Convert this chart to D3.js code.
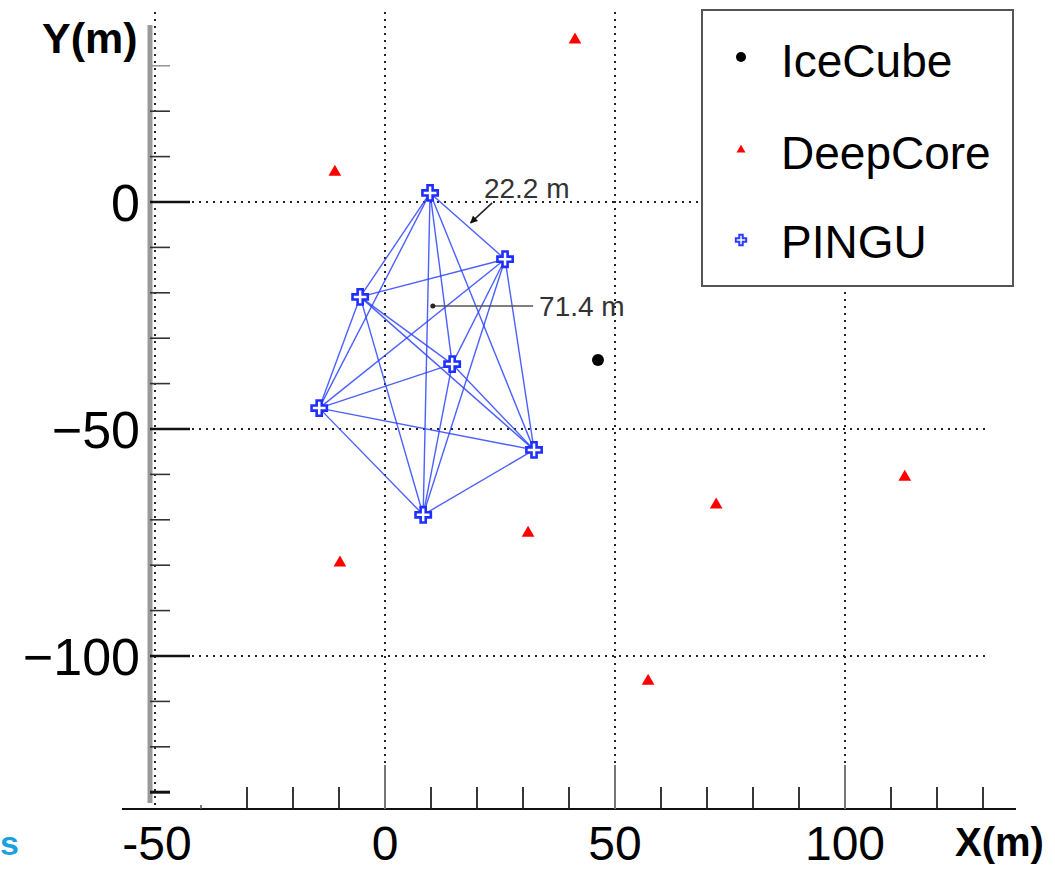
<!DOCTYPE html>
<html><head><meta charset="utf-8">
<script src="https://cdn.jsdelivr.net/npm/d3@7"></script>
<style>
html,body{margin:0;padding:0;background:#fff;}
svg text{font-family:"Liberation Sans",Arial,sans-serif;}
</style></head>
<body><svg id="c" width="1055" height="871"></svg>
<script>
// ---- data ----
const icecubeX = [46.3];
const icecubeY = [-34.8];
const deepcoreX = [41.3, -10.9, -9.8, 31.1, 72.0, 113.0, 57.2];
const deepcoreY = [35.7, 6.6, -79.5, -72.9, -66.7, -60.6, -105.5];
const pinguX = [9.8, 26.1, -5.4, 14.6, -14.3, 32.4, 8.3];
const pinguY = [2.0, -12.6, -20.9, -35.7, -45.4, -54.6, -68.9];
const xTickLabels = [-50, 0, 50, 100];
const yTickLabels = [0, -50, -100];
const xMinorTicks = [-30, -20, -10, 10, 20, 30, 40, 60, 70, 80, 90, 110, 120, 130];
const yMinorTicks = [30, 20, 10, -10, -20, -30, -40, -60, -70, -80, -90, -110, -120, -130];
const legendNames = ["IceCube", "DeepCore", "PINGU"];
const annotText = ["22.2 m", "71.4 m"];
const annotTextX = [21.5, 33.5];   // data coords of label start
const annotTextY = [3.2, -22.9];
const annotFromX = [23.3, 10.4];   // pointer start
const annotFromY = [-0.2, -22.9];
const annotToX = [18.6, 32.2];     // pointer end
const annotToY = [-4.6, -22.9];

const svg = d3.select("#c");
const x = d3.scaleLinear().domain([-50, 100]).range([155, 845]);
const y = d3.scaleLinear().domain([0, -100]).range([202, 656]);

const xAxisY = 809, yAxisX = 150;
const gridTop = 12, gridRight = x(131);

// grid (dotted)
const grid = svg.append("g").attr("stroke", "#222").attr("stroke-width", 2).attr("stroke-dasharray", "2,5");
[-50, 0, 50, 100].forEach(v => {
  grid.append("line").attr("x1", x(v)).attr("x2", x(v)).attr("y1", gridTop).attr("y2", xAxisY);
});
yTickLabels.forEach(v => {
  grid.append("line").attr("x1", yAxisX).attr("x2", gridRight).attr("y1", y(v)).attr("y2", y(v));
});

// Y axis
svg.append("line").attr("x1", yAxisX).attr("x2", yAxisX).attr("y1", 25).attr("y2", 803)
  .attr("stroke", "#999").attr("stroke-width", 5);
const yAx = svg.append("g");
yTickLabels.forEach(v => {
  yAx.append("line").attr("x1", yAxisX).attr("x2", yAxisX + 40).attr("y1", y(v)).attr("y2", y(v))
    .attr("stroke", "#111").attr("stroke-width", 2.5);
  yAx.append("text").attr("x", 140).attr("y", y(v)).attr("dy", "0.36em").attr("text-anchor", "end")
    .attr("font-size", 52).attr("fill", "#000").text(v < 0 ? "\u2212" + Math.abs(v) : String(v));
});
yMinorTicks.forEach(v => {
  yAx.append("line").attr("x1", yAxisX).attr("x2", yAxisX + 20).attr("y1", y(v)).attr("y2", y(v))
    .attr("stroke", v === 30 ? "#999" : (v === -130 ? "#111" : "#333"))
    .attr("stroke-width", v === -130 ? 3 : 1.6);
});

// X axis
svg.append("line").attr("x1", 122).attr("x2", 1016).attr("y1", xAxisY).attr("y2", xAxisY)
  .attr("stroke", "#111").attr("stroke-width", 2);
const xAx = svg.append("g");
xMinorTicks.forEach(v => {
  xAx.append("line").attr("x1", x(v)).attr("x2", x(v)).attr("y1", xAxisY).attr("y2", xAxisY - 22)
    .attr("stroke", "#222").attr("stroke-width", 1.8);
});
xAx.append("line").attr("x1", x(-40)).attr("x2", x(-40)).attr("y1", xAxisY).attr("y2", xAxisY - 4)
  .attr("stroke", "#555").attr("stroke-width", 1.5);
[0, 50, 100].forEach(v => {
  xAx.append("line").attr("x1", x(v)).attr("x2", x(v)).attr("y1", xAxisY).attr("y2", xAxisY - 44)
    .attr("stroke", "#777").attr("stroke-width", 2);
});
xTickLabels.forEach(v => {
  xAx.append("text").attr("x", x(v) + (v < 0 ? 2 : 0)).attr("y", 860)
    .attr("text-anchor", "middle").attr("font-size", 48).attr("fill", "#000").text(String(v));
});

// axis titles
svg.append("text").attr("x", 42).attr("y", 53).attr("font-size", 43).attr("font-weight", "bold").text("Y(m)");
svg.append("text").attr("x", 955).attr("y", 856).attr("font-size", 40).attr("font-weight", "bold").text("X(m)");
svg.append("text").attr("x", 0).attr("y", 855).attr("font-size", 34)
  .attr("font-weight", "bold").attr("fill", "#1a9fe0").text("s");

// PINGU connecting lines (all pairs)
const pingu = pinguX.map((v, i) => ({x: v, y: pinguY[i]}));
const links = [];
for (let i = 0; i < pingu.length; i++) for (let j = i + 1; j < pingu.length; j++) links.push([pingu[i], pingu[j]]);
svg.append("g").selectAll("line").data(links).join("line")
  .attr("x1", d => x(d[0].x)).attr("y1", d => y(d[0].y))
  .attr("x2", d => x(d[1].x)).attr("y2", d => y(d[1].y))
  .attr("stroke", "#2d44ff").attr("stroke-width", 1.4).attr("stroke-opacity", 0.85);

// annotations
svg.append("defs").append("marker").attr("id", "ah").attr("viewBox", "0 0 10 10").attr("refX", 9).attr("refY", 5)
  .attr("markerWidth", 5).attr("markerHeight", 5).attr("orient", "auto")
  .append("path").attr("d", "M0,0L10,5L0,10z").attr("fill", "#111");
annotText.forEach((t, i) => {
  svg.append("line").attr("x1", x(annotFromX[i])).attr("y1", y(annotFromY[i]))
    .attr("x2", x(annotToX[i])).attr("y2", y(annotToY[i]))
    .attr("stroke", i === 0 ? "#222" : "#555").attr("stroke-width", 1.5)
    .attr("marker-end", i === 0 ? "url(#ah)" : null);
  if (i === 1) svg.append("circle").attr("cx", x(annotFromX[i])).attr("cy", y(annotFromY[i])).attr("r", 2.5).attr("fill", "#222");
  svg.append("text").attr("x", x(annotTextX[i])).attr("y", y(annotTextY[i])).attr("dy", "0.36em")
    .attr("font-size", 28).attr("fill", "#333").text(t);
});

// markers
const crossPath = d3.symbol().type(d3.symbolCross).size(130);
svg.append("g").selectAll("path").data(pingu).join("path")
  .attr("d", crossPath).attr("transform", d => `translate(${x(d.x)},${y(d.y)})`)
  .attr("fill", "#fff").attr("stroke", "#1f2fff").attr("stroke-width", 2.6);
const deep = deepcoreX.map((v, i) => ({x: v, y: deepcoreY[i]}));
svg.append("g").selectAll("path").data(deep).join("path")
  .attr("d", d3.symbol().type(d3.symbolTriangle).size(70))
  .attr("transform", d => `translate(${x(d.x)},${y(d.y)})`).attr("fill", "#ff0000");
svg.append("g").selectAll("circle").data(icecubeX.map((v, i) => ({x: v, y: icecubeY[i]}))).join("circle")
  .attr("cx", d => x(d.x)).attr("cy", d => y(d.y)).attr("r", 6).attr("fill", "#000");

// legend
const lg = svg.append("g");
lg.append("rect").attr("x", 702).attr("y", 10).attr("width", 311).attr("height", 276)
  .attr("fill", "#fff").attr("stroke", "#555").attr("stroke-width", 2);
const ly = [60, 152, 241];
legendNames.forEach((n, i) => {
  lg.append("text").attr("x", 781).attr("y", ly[i]).attr("dy", "0.36em").attr("font-size", 46).attr("fill", "#000").text(n);
});
lg.append("circle").attr("cx", 741).attr("cy", ly[0] - 3).attr("r", 5).attr("fill", "#000");
lg.append("path").attr("d", d3.symbol().type(d3.symbolTriangle).size(35)).attr("transform", `translate(741,${ly[1] - 2})`).attr("fill", "#ff0000");
lg.append("path").attr("d", d3.symbol().type(d3.symbolCross).size(60)).attr("transform", `translate(741,${ly[2] - 1})`)
  .attr("fill", "#fff").attr("stroke", "#2a3cff").attr("stroke-width", 2);
</script></body></html>
